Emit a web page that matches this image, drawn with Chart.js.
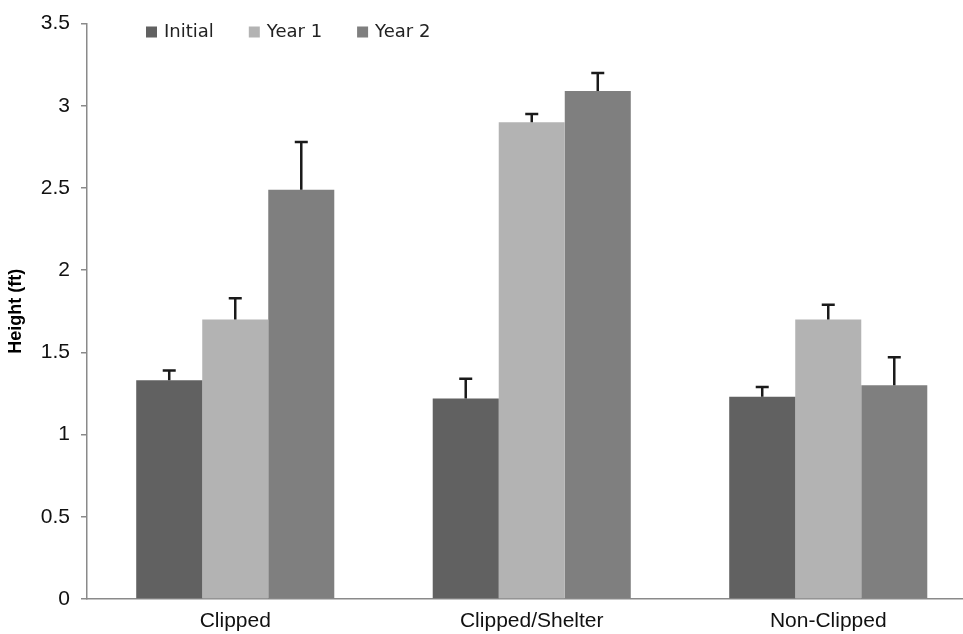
<!DOCTYPE html>
<html>
<head>
<meta charset="utf-8">
<script src="https://cdn.jsdelivr.net/npm/chart.js@4/dist/chart.umd.min.js"></script>
<style>
  html, body { margin: 0; padding: 0; background: #fff; overflow: hidden; }
  #wrap { width: 978px; height: 634px; }
</style>
</head>
<body>
<div id="wrap"><canvas id="c" width="978" height="634"></canvas></div>
<script>
// ---- data ----
const categories = ['Clipped', 'Clipped/Shelter', 'Non-Clipped'];
const seriesNames = ['Initial', 'Year 1', 'Year 2'];
const initialValues = [1.33, 1.22, 1.23];
const year1Values = [1.70, 2.90, 1.70];
const year2Values = [2.49, 3.09, 1.30];
// upper error extents
const initialErr = [0.06, 0.12, 0.06];
const year1Err = [0.13, 0.05, 0.09];
const year2Err = [0.29, 0.11, 0.17];
const yTicks = [0, 0.5, 1, 1.5, 2, 2.5, 3, 3.5];

const colors = ['#616161', '#b3b3b3', '#7f7f7f'];
const errs = [initialErr, year1Err, year2Err];

const errorBarPlugin = {
  id: 'errorBars',
  afterDatasetsDraw(chart) {
    const ctx = chart.ctx;
    const yScale = chart.scales.y;
    ctx.save();
    ctx.strokeStyle = '#1a1a1a';
    ctx.lineWidth = 2.5;
    chart.data.datasets.forEach((ds, i) => {
      const meta = chart.getDatasetMeta(i);
      meta.data.forEach((el, j) => {
        const top = yScale.getPixelForValue(ds.data[j] + ds.errUp[j]);
        ctx.beginPath();
        ctx.moveTo(el.x, el.y);
        ctx.lineTo(el.x, top);
        ctx.moveTo(el.x - 6.5, top);
        ctx.lineTo(el.x + 6.5, top);
        ctx.stroke();
      });
    });
    ctx.restore();
  }
};

const legendPlugin = {
  id: 'customLegend',
  afterDraw(chart) {
    const ctx = chart.ctx;
    ctx.save();
    ctx.font = '18px "DejaVu Sans", sans-serif';
    ctx.textBaseline = 'middle';
    ctx.textAlign = 'left';
    let x = 146;
    const cy = 32;
    chart.data.datasets.forEach((ds) => {
      ctx.fillStyle = ds.backgroundColor;
      ctx.fillRect(x, cy - 5.5, 11, 11);
      x += 11 + 7;
      ctx.fillStyle = '#222';
      ctx.fillText(ds.label, x, cy);
      x += ctx.measureText(ds.label).width + 35;
    });
    ctx.restore();
  }
};

const seriesValues = [initialValues, year1Values, year2Values];

new Chart(document.getElementById('c'), {
  type: 'bar',
  data: {
    labels: categories,
    datasets: seriesNames.map((name, i) => ({
      label: name,
      data: seriesValues[i],
      errUp: errs[i],
      backgroundColor: colors[i],
      borderWidth: 0,
      barPercentage: 1.0,
      categoryPercentage: 0.668
    }))
  },
  options: {
    responsive: false,
    animation: false,
    layout: { padding: { top: 22, right: 1.5, bottom: 0, left: 0 } },
    plugins: {
      legend: { display: false },
      tooltip: { enabled: false }
    },
    scales: {
      x: {
        grid: { display: false, drawTicks: false },
        border: { display: true, color: '#8a8a8a', width: 1.5 },
        ticks: {
          color: '#111',
          font: { family: '"Liberation Sans", Arial, sans-serif', size: 21 },
          padding: 10,
          maxRotation: 0
        },
        afterFit(scale) { scale.height = 35; }
      },
      y: {
        min: 0,
        max: 3.5,
        afterBuildTicks(scale) { scale.ticks = yTicks.map(v => ({ value: v })); },
        grid: { drawOnChartArea: false, drawTicks: true, tickLength: 6, color: '#8a8a8a', lineWidth: 1.5 },
        border: { display: true, color: '#8a8a8a', width: 1.5 },
        ticks: {
          color: '#111',
          font: { family: '"Liberation Sans", Arial, sans-serif', size: 21 },
          padding: 11,
          callback: (v) => String(v)
        },
        title: {
          display: true,
          text: 'Height (ft)',
          color: '#000',
          font: { family: '"Liberation Sans", Arial, sans-serif', size: 18, weight: 'bold' },
          padding: { top: 5, bottom: 0 }
        },
        afterFit(scale) { scale.width = 87; }
      }
    }
  },
  plugins: [errorBarPlugin, legendPlugin]
});
</script>
</body>
</html>
